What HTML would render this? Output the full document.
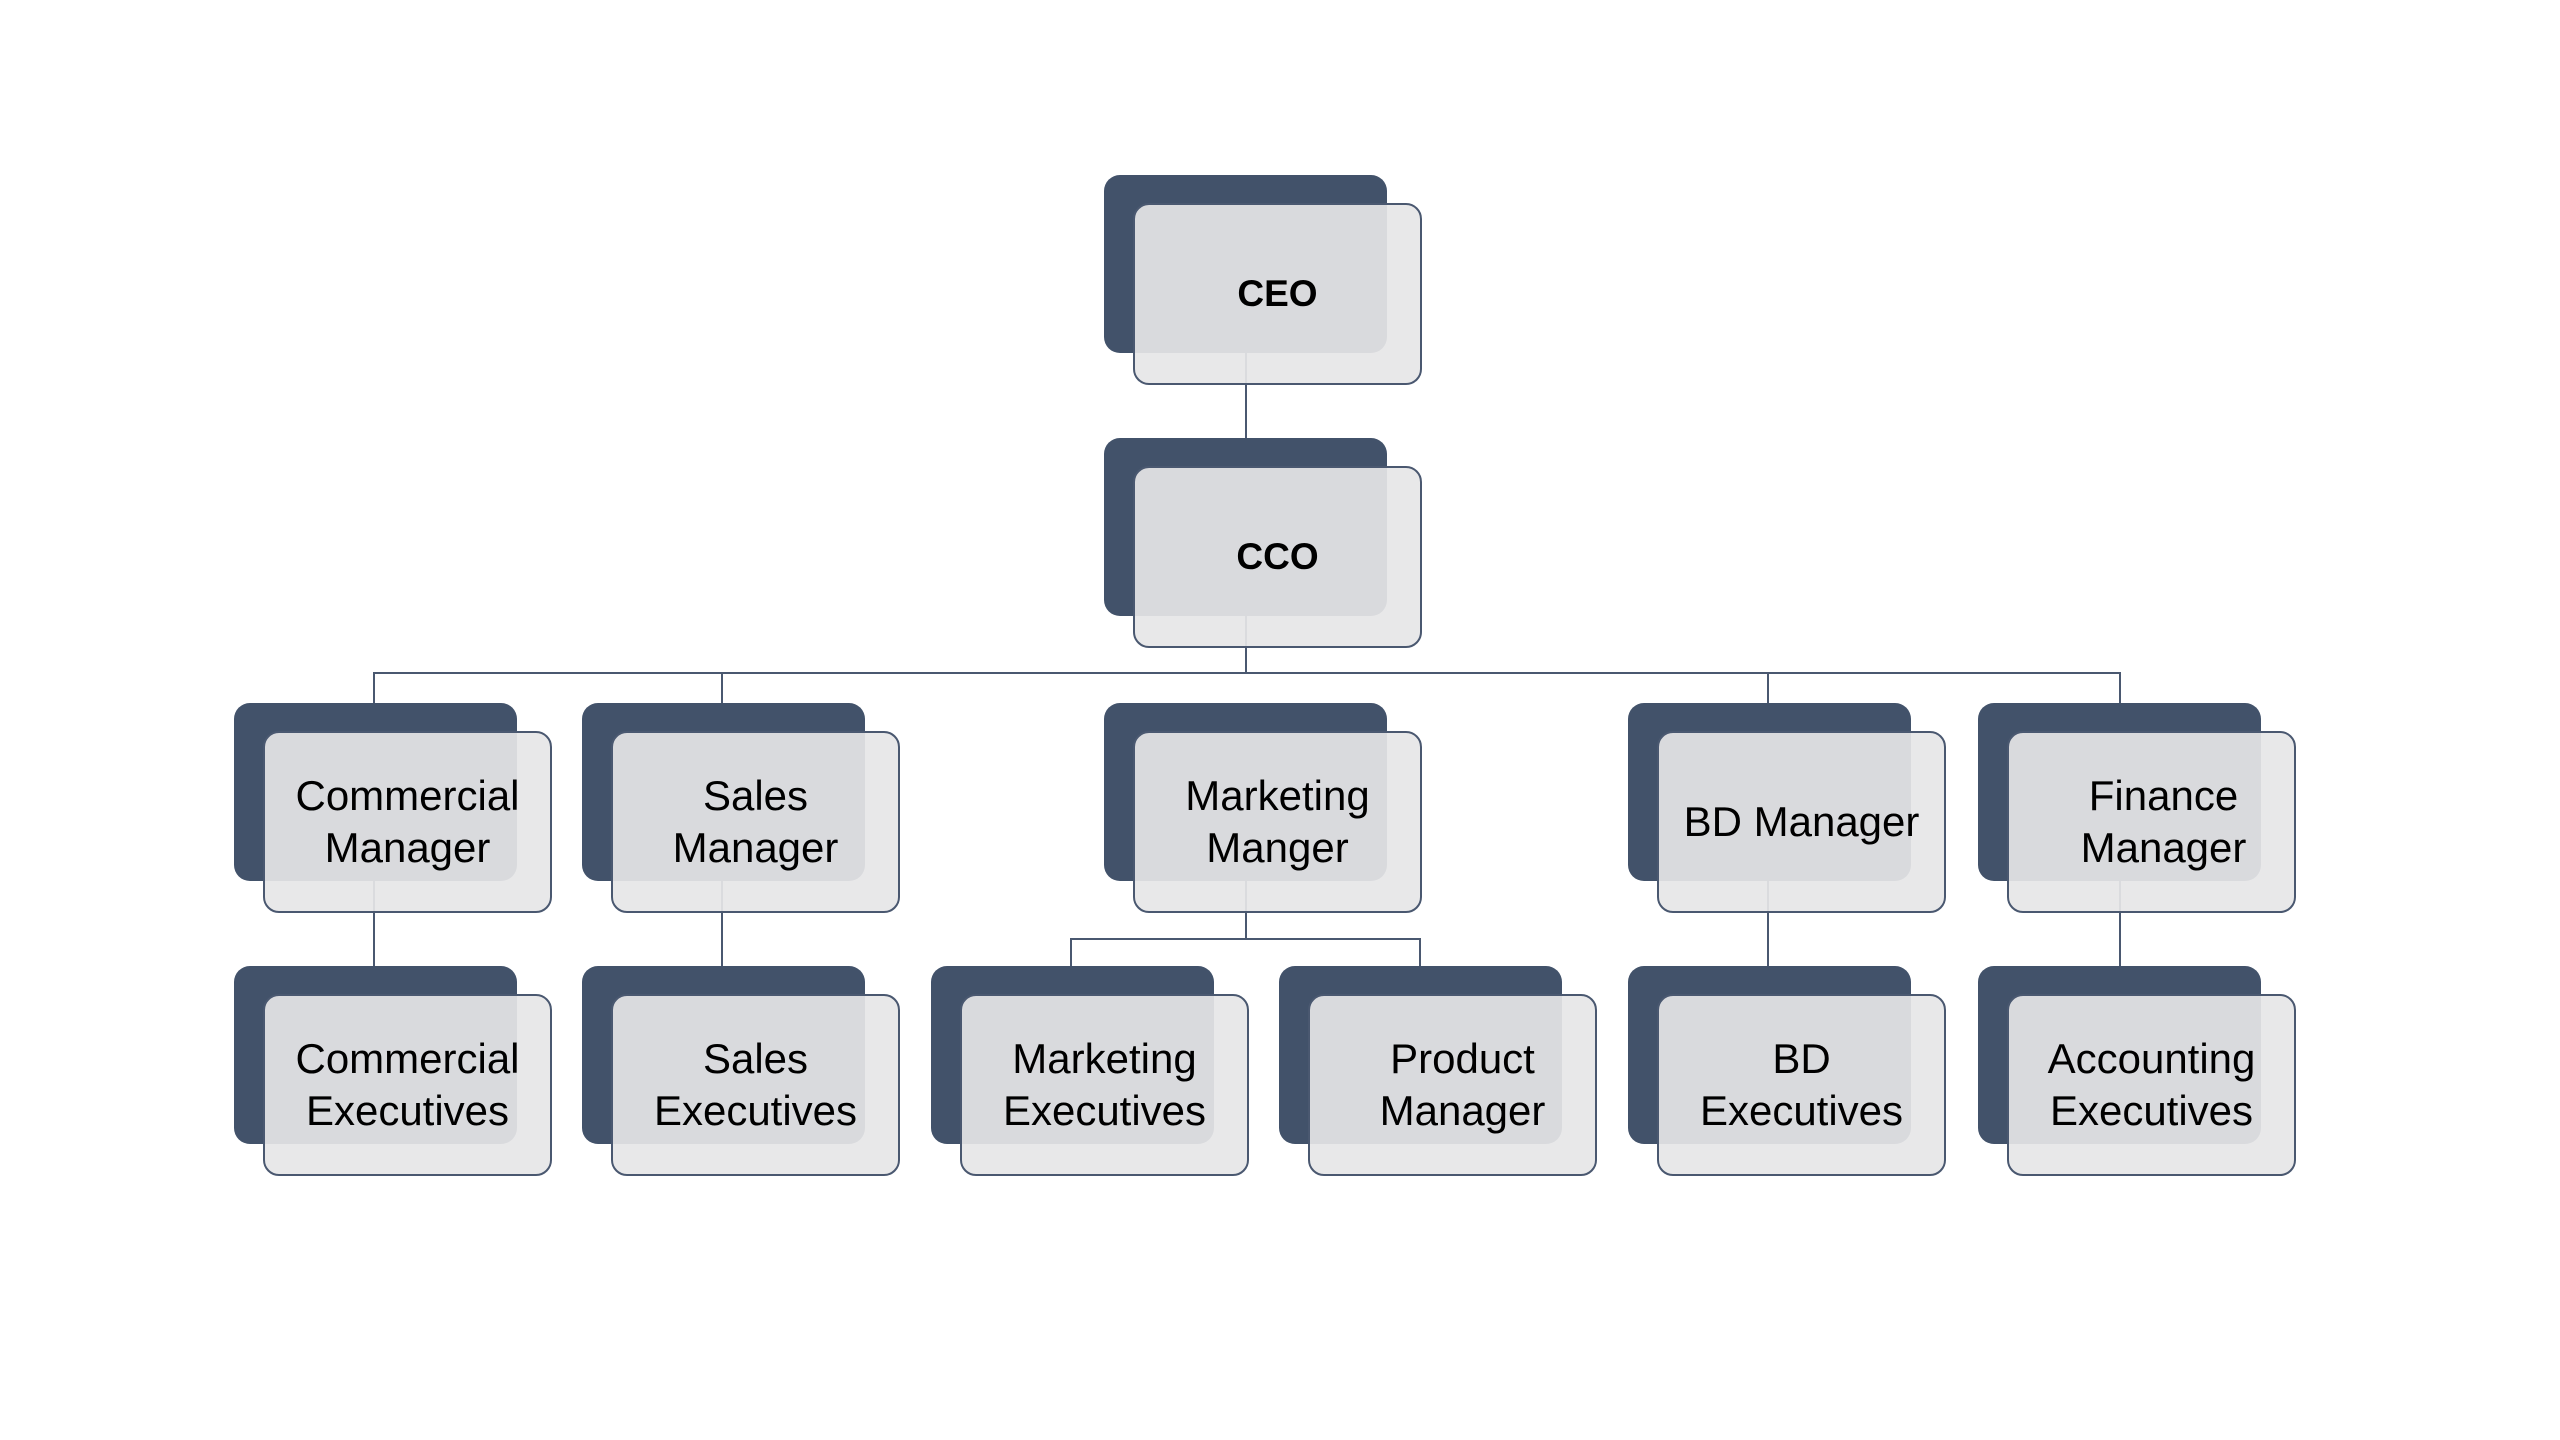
<!DOCTYPE html>
<html><head><meta charset="utf-8"><style>
body{margin:0;width:2560px;height:1440px;background:#fff;position:relative;overflow:hidden;font-family:"Liberation Sans",sans-serif}
.d{position:absolute;width:283px;height:178px;background:#42526a;border-radius:16px}
.l{position:absolute;width:285px;height:178px;background:rgba(230,230,231,0.92);border:2px solid #4a5870;border-radius:16px;display:flex;align-items:center;justify-content:center;text-align:center;font-size:42px;line-height:52px;color:#000}
.b{font-weight:bold;font-size:37px}
.ln{position:absolute;background:#4a5870}
</style></head><body>
<div class="ln" style="left:1245px;top:353px;width:2px;height:86px"></div>
<div class="ln" style="left:1245px;top:616px;width:2px;height:58px"></div>
<div class="ln" style="left:373px;top:672px;width:1748px;height:2px"></div>
<div class="ln" style="left:373px;top:672px;width:2px;height:32px"></div>
<div class="ln" style="left:721px;top:672px;width:2px;height:32px"></div>
<div class="ln" style="left:1767px;top:672px;width:2px;height:32px"></div>
<div class="ln" style="left:2119px;top:672px;width:2px;height:32px"></div>
<div class="ln" style="left:373px;top:880px;width:2px;height:87px"></div>
<div class="ln" style="left:721px;top:880px;width:2px;height:87px"></div>
<div class="ln" style="left:1767px;top:880px;width:2px;height:87px"></div>
<div class="ln" style="left:2119px;top:880px;width:2px;height:87px"></div>
<div class="ln" style="left:1245px;top:880px;width:2px;height:60px"></div>
<div class="ln" style="left:1070px;top:938px;width:351px;height:2px"></div>
<div class="ln" style="left:1070px;top:938px;width:2px;height:29px"></div>
<div class="ln" style="left:1419px;top:938px;width:2px;height:29px"></div>

<div class="d" style="left:1104px;top:175px"></div><div class="l b" style="left:1133px;top:203px">CEO</div>
<div class="d" style="left:1104px;top:438px"></div><div class="l b" style="left:1133px;top:466px">CCO</div>

<div class="d" style="left:234px;top:703px"></div><div class="l" style="left:263px;top:731px">Commercial<br>Manager</div>
<div class="d" style="left:582px;top:703px"></div><div class="l" style="left:611px;top:731px">Sales<br>Manager</div>
<div class="d" style="left:1104px;top:703px"></div><div class="l" style="left:1133px;top:731px">Marketing<br>Manger</div>
<div class="d" style="left:1628px;top:703px"></div><div class="l" style="left:1657px;top:731px">BD Manager</div>
<div class="d" style="left:1978px;top:703px"></div><div class="l" style="left:2007px;top:731px"><span style="position:relative;left:12px">Finance<br>Manager</span></div>

<div class="d" style="left:234px;top:966px"></div><div class="l" style="left:263px;top:994px">Commercial<br>Executives</div>
<div class="d" style="left:582px;top:966px"></div><div class="l" style="left:611px;top:994px">Sales<br>Executives</div>
<div class="d" style="left:931px;top:966px"></div><div class="l" style="left:960px;top:994px">Marketing<br>Executives</div>
<div class="d" style="left:1279px;top:966px"></div><div class="l" style="left:1308px;top:994px"><span style="position:relative;left:10px">Product<br>Manager</span></div>
<div class="d" style="left:1628px;top:966px"></div><div class="l" style="left:1657px;top:994px">BD<br>Executives</div>
<div class="d" style="left:1978px;top:966px"></div><div class="l" style="left:2007px;top:994px">Accounting<br>Executives</div>
</body></html>
